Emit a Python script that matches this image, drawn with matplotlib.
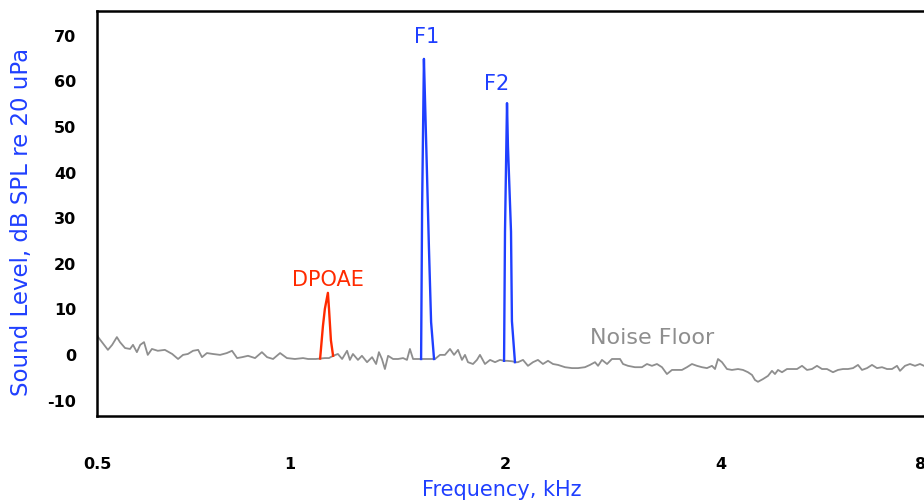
import numpy as np
import matplotlib
matplotlib.use("Agg")
import matplotlib.pyplot as plt

# noise floor spectrum (kHz, dB SPL)
noise_khz = [0.500, 0.502, 0.509, 0.520, 0.528, 0.537, 0.543, 0.553, 0.563, 0.569, 0.577,
             0.584, 0.592, 0.600, 0.609, 0.622, 0.638, 0.655, 0.669, 0.681, 0.693, 0.706,
             0.719, 0.729, 0.742, 0.758, 0.778, 0.797, 0.812, 0.827, 0.842, 0.860, 0.882,
             0.904, 0.921, 0.941, 0.965, 0.989,
             1.016, 1.043, 1.060, 1.074, 1.087, 1.102, 1.119, 1.134, 1.149, 1.167, 1.183,
             1.202, 1.213, 1.225, 1.245, 1.261, 1.282, 1.303, 1.320, 1.332, 1.345, 1.358,
             1.372, 1.394, 1.417, 1.440, 1.458, 1.472, 1.487, 1.511, 1.526, 1.555, 1.586,
             1.596, 1.622, 1.648, 1.675, 1.697, 1.719, 1.741, 1.758, 1.775, 1.804, 1.827,
             1.845, 1.875, 1.906, 1.937, 1.968, 1.994,
             2.013, 2.045, 2.072, 2.085, 2.119, 2.153, 2.188, 2.223, 2.259, 2.296, 2.333,
             2.371, 2.425, 2.480, 2.528, 2.585, 2.627, 2.670, 2.696, 2.730, 2.775, 2.819,
             2.847, 2.893, 2.921, 2.968, 3.035, 3.104, 3.154, 3.205, 3.257, 3.310, 3.363,
             3.418, 3.473, 3.529, 3.586, 3.644, 3.703, 3.763, 3.824, 3.886, 3.924, 3.962,
             4.014, 4.084, 4.155, 4.243, 4.317, 4.392, 4.454, 4.500, 4.547, 4.627, 4.708,
             4.773, 4.823, 4.874, 4.942, 5.028, 5.116, 5.206, 5.297, 5.389, 5.483, 5.579,
             5.677, 5.776, 5.897, 6.000, 6.105, 6.212, 6.321, 6.431, 6.521, 6.635, 6.751,
             6.869, 6.989, 7.111, 7.236, 7.362, 7.439, 7.569, 7.701, 7.836, 7.973, 8.084]
noise_db = [4.2, 3.7, 2.6, 0.9, 2.0, 3.7, 2.6, 1.3, 1.1, 2.0, 0.4,
            2.0, 2.6, -0.2, 1.1, 0.7, 0.9, 0.0, -1.1, -0.2, 0.0, 0.7,
            0.9, -0.7, 0.2, 0.0, -0.2, 0.2, 0.7, -0.9, -0.7, -0.4, -0.9,
            0.4, -0.7, -1.1, 0.2, -0.9,
            -1.1, -0.9, -1.1, -1.1, -1.1, -1.0, -0.9, -0.9, -0.4, 0.0, -1.1,
            0.7, -1.3, 0.0, -1.3, -0.4, -1.8, -0.7, -2.2, 0.4, -1.1, -3.3,
            -0.4, -1.1, -1.1, -0.9, -1.3, 1.1, -1.1, -1.1, -1.1, -1.1, -1.1,
            -1.1, -0.2, -0.2, 1.1, -0.2, 0.9, -1.3, -0.2, -1.8, -2.2, -1.3,
            -0.2, -2.2, -1.3, -1.8, -1.3, -1.5,
            -1.5, -1.6, -1.8, -1.8, -1.3, -2.6, -1.8, -1.3, -2.2, -1.5, -2.2,
            -2.4, -2.9, -3.1, -3.1, -2.9, -2.4, -1.8, -2.6, -1.3, -2.2, -1.1,
            -1.1, -1.1, -2.2, -2.6, -2.9, -2.9, -2.2, -2.6, -2.2, -2.9, -4.4,
            -3.5, -3.5, -3.5, -2.9, -2.2, -2.6, -2.9, -3.1, -2.6, -3.3, -1.1,
            -1.8, -3.3, -3.5, -3.3, -3.5, -4.0, -4.6, -5.7, -6.1, -5.5, -4.8,
            -3.7, -4.4, -3.5, -4.0, -3.3, -3.3, -3.3, -2.6, -3.5, -3.3, -2.6,
            -3.3, -3.3, -4.0, -3.5, -3.3, -3.3, -3.1, -2.4, -3.5, -3.1, -2.4,
            -3.1, -2.9, -3.3, -3.3, -2.6, -3.7, -2.6, -2.2, -2.6, -2.2, -2.6]

# emission and primary tones
dpoae_khz = [1.102, 1.105, 1.112, 1.119, 1.130, 1.134, 1.141, 1.149]
dpoae_db = [-1.0, 1.1, 6.1, 9.9, 13.4, 9.9, 3.0, -0.4]
f1_khz = [1.526, 1.531, 1.540, 1.545, 1.555, 1.565, 1.576, 1.591]
f1_db = [-1.1, 32.0, 64.7, 56.4, 40.1, 23.4, 7.0, -1.1]
f2_khz = [1.994, 2.000, 2.013, 2.019, 2.039, 2.045, 2.065]
f2_db = [-1.5, 26.8, 55.0, 45.6, 26.8, 7.2, -1.8]

xticks = [0.5, 1, 2, 4, 8]
xticklabels = ['0.5', '1', '2', '4', '8']
yticks = [-10, 0, 10, 20, 30, 40, 50, 60, 70]

blue = '#1f3fff'
red = '#ff2a00'
gray = '#8e8e8e'

plt.rcParams['axes.unicode_minus'] = False

# the original axis is not quite logarithmic, so map octaves onto its tick spacing
oct_pts = [-1, 0, 1, 2, 3, 4]
pix_pts = [0, 193, 408, 624, 824, 1024]

def fwd(x):
    with np.errstate(divide='ignore', invalid='ignore'):
        return np.interp(np.log2(np.asarray(x, dtype=float)), oct_pts, pix_pts)

def inv(p):
    return 2.0 ** np.interp(np.asarray(p, dtype=float), pix_pts, oct_pts)

fig = plt.figure(figsize=(9.24, 5.02), dpi=100)
ax = fig.add_axes([97 / 924, 1 - 417 / 502, (930 - 97) / 924, 405 / 502])
ax.set_xscale('function', functions=(fwd, inv))

ax.plot(noise_khz, noise_db, color=gray, lw=1.3)
ax.plot(dpoae_khz, dpoae_db, color=red, lw=1.7)
ax.plot(f1_khz, f1_db, color=blue, lw=1.7)
ax.plot(f2_khz, f2_db, color=blue, lw=1.7)

ax.set_xlim(0.5, 8.254)
ax.set_ylim(-13.6, 75.2)
ax.set_xticks(xticks)
ax.set_xticklabels(xticklabels)
ax.xaxis.set_minor_locator(matplotlib.ticker.NullLocator())
ax.set_yticks(yticks)
ax.tick_params(axis='both', length=0, labelsize=11.5)
ax.tick_params(axis='x', pad=29)
ax.tick_params(axis='y', pad=15)
for lab in ax.get_xticklabels() + ax.get_yticklabels():
    lab.set_fontweight('bold')
for sp in ax.spines.values():
    sp.set_linewidth(1.8)
    sp.set_color('black')

ax.text(1.555, 69.7, 'F1', color=blue, fontsize=15, ha='center', va='center')
ax.text(1.949, 59.4, 'F2', color=blue, fontsize=15, ha='center', va='center')
ax.text(1.130, 16.4, 'DPOAE', color=red, fontsize=15, ha='center', va='center')
ax.text(3.205, 3.7, 'Noise Floor', color=gray, fontsize=16, ha='center', va='center')

fig.text(502 / 924, 1 - 490 / 502, 'Frequency, kHz', color=blue, fontsize=15,
         ha='center', va='center')
fig.text(22 / 924, 1 - 222 / 502, 'Sound Level, dB SPL re 20 uPa', color=blue,
         fontsize=16.5, ha='center', va='center', rotation=90)

fig.savefig('out.png', dpi=100)
